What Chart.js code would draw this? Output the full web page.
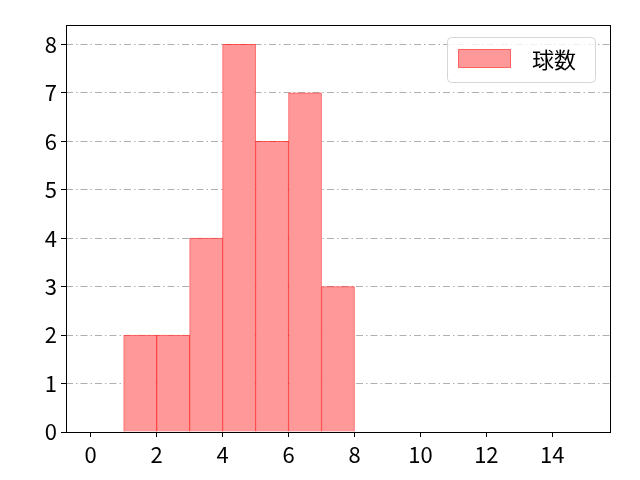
<!DOCTYPE html>
<html>
<head>
<meta charset="utf-8">
<script src="https://cdn.jsdelivr.net/npm/chart.js@4"></script>
<style>
  html, body { margin: 0; padding: 0; background: #fff; }
  #wrap { width: 640px; height: 480px; }
</style>
</head>
<body>
<div id="wrap"><canvas id="myChart" width="640" height="480"></canvas></div>
<script>
// histogram bins (left edges, width 1) and counts
var binStarts = [1, 2, 3, 4, 5, 6, 7];
var counts = [2, 2, 4, 8, 6, 7, 3];
var seriesLabel = '球数';
var xTicks = [0, 2, 4, 6, 8, 10, 12, 14];
var yTicks = [0, 1, 2, 3, 4, 5, 6, 7, 8];

var FONT = '"Noto Sans CJK JP", "Noto Sans", sans-serif';

// draws the black frame around the plot area
var framePlugin = {
    id: 'frame',
    afterDraw: function (chart) {
        var a = chart.chartArea;
        var c = chart.ctx;
        c.save();
        c.strokeStyle = '#000';
        c.lineWidth = 1;
        c.strokeRect(Math.round(a.left) + 0.5, Math.round(a.top) + 0.5,
            Math.round(a.right - a.left), Math.round(a.bottom - a.top));
        c.restore();
    }
};

// matplotlib-style legend in the upper right corner
var legendPlugin = {
    id: 'mplLegend',
    afterDraw: function (chart) {
        var a = chart.chartArea;
        var ds = chart.data.datasets[0];
        var c = chart.ctx;
        var w = 148, h = 45;
        var x = a.right - 15 - w, y = a.top + 12;
        c.save();
        c.fillStyle = 'rgba(255,255,255,0.8)';
        c.strokeStyle = '#d6d6d6';
        c.lineWidth = 1;
        c.beginPath();
        c.roundRect(x + 0.5, y + 0.5, w, h, 4);
        c.fill();
        c.stroke();
        c.fillStyle = ds.backgroundColor;
        c.fillRect(x + 11, y + 12, 53, 19);
        c.strokeStyle = 'rgba(255,0,0,0.35)';
        c.strokeRect(x + 11.5, y + 12.5, 52, 18);
        c.fillStyle = '#000';
        c.font = '22px ' + FONT;
        c.textBaseline = 'middle';
        c.fillText(ds.label, x + 85, y + 23);
        c.restore();
    }
};

document.addEventListener('DOMContentLoaded', function () {
    var ctx = document.getElementById('myChart');
    var points = binStarts.map(function (s, i) {
        return { x: s + 0.5, y: counts[i] };
    });

    new Chart(ctx, {
        type: 'bar',
        data: {
            datasets: [{
                label: seriesLabel,
                data: points,
                backgroundColor: '#ff9999',
                borderColor: 'rgba(255,30,30,0.75)',
                borderWidth: 1,
                barPercentage: 1,
                categoryPercentage: 1
            }]
        },
        options: {
            responsive: false,
            animation: false,
            layout: { padding: { left: 0, right: 30, top: 25, bottom: 0 } },
            plugins: {
                legend: { display: false },
                tooltip: { enabled: false }
            },
            scales: {
                x: {
                    type: 'linear',
                    offset: false,
                    min: -0.75,
                    max: 15.75,
                    afterBuildTicks: function (scale) {
                        scale.ticks = xTicks.map(function (v) { return { value: v }; });
                    },
                    afterFit: function (scale) { scale.height = 48; },
                    grid: {
                        drawOnChartArea: false,
                        drawTicks: true,
                        tickLength: 5,
                        tickColor: '#000',
                        offset: false
                    },
                    border: { display: false },
                    ticks: {
                        color: '#000',
                        padding: 4,
                        maxRotation: 0,
                        autoSkip: false,
                        font: { family: FONT, size: 22 }
                    }
                },
                y: {
                    min: 0,
                    max: 8.4,
                    afterBuildTicks: function (scale) {
                        scale.ticks = yTicks.map(function (v) { return { value: v }; });
                    },
                    afterFit: function (scale) { scale.width = 66; },
                    grid: {
                        color: '#b0b0b0',
                        lineWidth: 1,
                        tickLength: 5,
                        tickColor: '#000'
                    },
                    border: { display: false, dash: [7, 3, 1.5, 3] },
                    ticks: {
                        color: '#000',
                        padding: 4,
                        autoSkip: false,
                        font: { family: FONT, size: 22 }
                    }
                }
            }
        },
        plugins: [framePlugin, legendPlugin]
    });
});
</script>
</body>
</html>
